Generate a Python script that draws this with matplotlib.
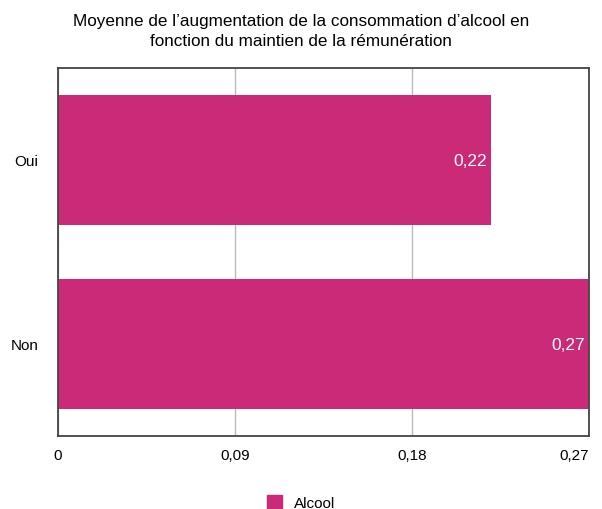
import matplotlib
matplotlib.use("Agg")
from matplotlib import pyplot as plt
from matplotlib.patches import Patch

plt.rcParams['font.family'] = ['Liberation Sans', 'DejaVu Sans']

# Données
categories = ["Non", "Oui"]
valeurs = [0.27, 0.22]
ticks_x = [0, 0.09, 0.18, 0.27]
labels_x = ["0", "0,09", "0,18", "0,27"]
serie = "Alcool"
couleur = "#CB2A79"

fig = plt.figure(figsize=(6.02, 5.10), dpi=100)
ax = fig.add_axes([58 / 602, 73 / 510, 531 / 602, 368 / 510])

pos = list(range(len(categories)))
barres = ax.barh(pos, valeurs, height=0.71, color=couleur, zorder=2)
for b, v in zip(barres, valeurs):
    ax.text(b.get_width() - 0.002, b.get_y() + b.get_height() / 2,
            f"{v:.2f}".replace(".", ","), color="white", fontsize=12.5,
            ha="right", va="center", zorder=3)

ax.set_xlim(0, 0.27)
ax.set_ylim(-0.5, 1.5)
ax.set_xticks(ticks_x)
ax.set_xticklabels(labels_x, fontsize=11)
ax.set_yticks(pos)
ax.set_yticklabels(categories, fontsize=11)
ax.tick_params(length=0, pad=9)
ax.tick_params(axis="y", pad=14)
ax.xaxis.grid(True, color="#bbbbbb", linewidth=1, zorder=0)
for s in ax.spines.values():
    s.set_color("#444444")
    s.set_linewidth(1.3)
# dernier label un peu décalé pour rester dans l'image
ax.get_xticklabels()[-1].set_ha("right")
ax.get_xticklabels()[-1].set_x(0.2715)

fig.text(0.5, 0.972, "Moyenne de l\u2019augmentation de la consommation d\u2019alcool en\n"
         "fonction du maintien de la rémunération", ha="center", va="top",
         fontsize=12.3, linespacing=1.4)

fig.legend(handles=[Patch(color=couleur, label=serie)], loc="center",
           bbox_to_anchor=(0.5, 0.012), frameon=False, fontsize=11,
           handlelength=1.0, handleheight=1.0)

plt.savefig("out.png", dpi=100)
